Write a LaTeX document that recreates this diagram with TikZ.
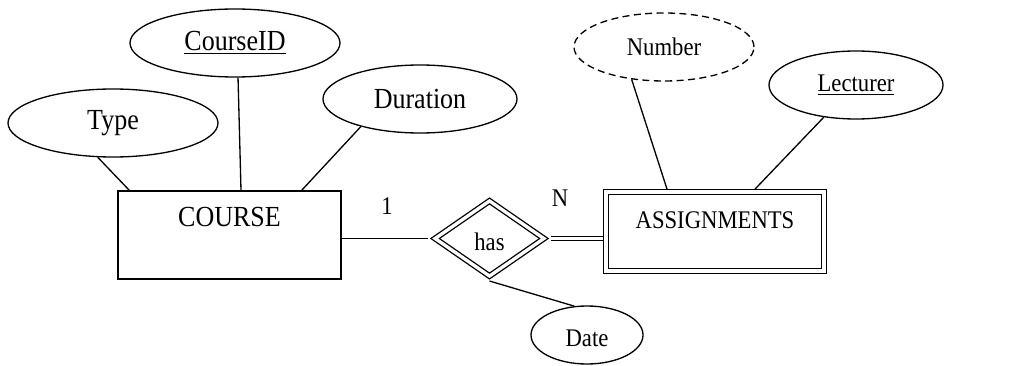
\documentclass[tikz,border=0pt]{standalone}
\usepackage{graphicx}
\usepackage{fontspec}
\setmainfont{Liberation Serif}
\usetikzlibrary{%
  calc,%
  shapes.geometric%
}
\newcommand{\vstretch}[1]{\scalebox{1}[1.12]{#1}}
\tikzset{attrib/.style = {draw, ellipse, inner sep=0pt, minimum height=1.36cm},
  entity/.style = {draw, rectangle, inner sep=0pt},
  weakent/.style = {draw, rectangle, double, double distance=1.9pt, inner sep=0pt,
    outer sep=1.65pt},
  rel/.style = {draw, diamond, double, double distance=1.9pt, inner sep=0pt,
    aspect=1.45, outer xsep=2.9pt, outer ysep=2pt},
  bigfont/.style = {font=\fontsize{14.8}{17}\selectfont},
  smallfont/.style = {font=\fontsize{12.9}{15}\selectfont}}

\begin{document}
\begin{tikzpicture}[line width=0.75pt]
  \useasboundingbox (0,0) rectangle (20.56,7.3);
  \node[entity,minimum width=4.46cm,minimum height=1.76cm] (course) at (4.59,2.6) {};
  \node[bigfont] (coursename) at ($(course.center)+(0,0.36)$) {\vstretch{COURSE}};
  \node[weakent,minimum width=4.36cm,minimum height=1.58cm] (assign) at (14.3,2.67) {};
  \node[smallfont] (assignname) at ($(assign.center)+(0,0.22)$) {\vstretch{ASSIGNMENTS}};
  \node[rel,smallfont,minimum width=2.26cm,minimum height=1.56cm,text height=0.48cm,
    text depth=0cm] (has) at (9.79,2.53) {\vstretch{has}};
  \node[attrib,bigfont,minimum width=4.2cm] (type) at (2.26,4.84) {\vstretch{Type}};
  \node[attrib,bigfont,minimum width=4.2cm] (cid) at (4.7,6.44) {\vstretch{\underline{CourseID}}};
  \node[attrib,bigfont,minimum width=3.88cm] (dur) at (8.4,5.32) {\vstretch{Duration}};
  \node[attrib,smallfont,dash pattern=on 4pt off 2.5pt,minimum width=3.6cm] (num)
    at (13.28,6.36) {\vstretch{Number}};
  \node[attrib,smallfont,minimum width=3.48cm] (lect) at (17.12,5.6) {\vstretch{\underline{Lecturer}}};
  \node[attrib,smallfont,minimum width=2.24cm,minimum height=1.16cm,text height=0.46cm,
    text depth=0cm] (date) at (11.74,0.6) {\vstretch{Date}};
  \draw (type.246) -- ([xshift=0.24cm]course.north west);
  \draw (cid.275) -- ([xshift=0.23cm]course.north);
  \draw (dur.205) -- ([xshift=-0.8cm]course.north east);
  \draw (has.west -| course.east) -- (has.west);
  \draw[double, double distance=1.9pt] (has.east) -- (has.east -| assign.west);
  \draw (num.225) -- ([xshift=-0.96cm]assign.north);
  \draw (lect.225) -- ([xshift=0.8cm]assign.north);
  \draw (date.114) -- (has.south);
  \node[smallfont] (one) at (7.74,3.18) {\vstretch{1}};
  \node[smallfont] (many) at (11.2,3.34) {\vstretch{N}};
\end{tikzpicture}
\end{document}
